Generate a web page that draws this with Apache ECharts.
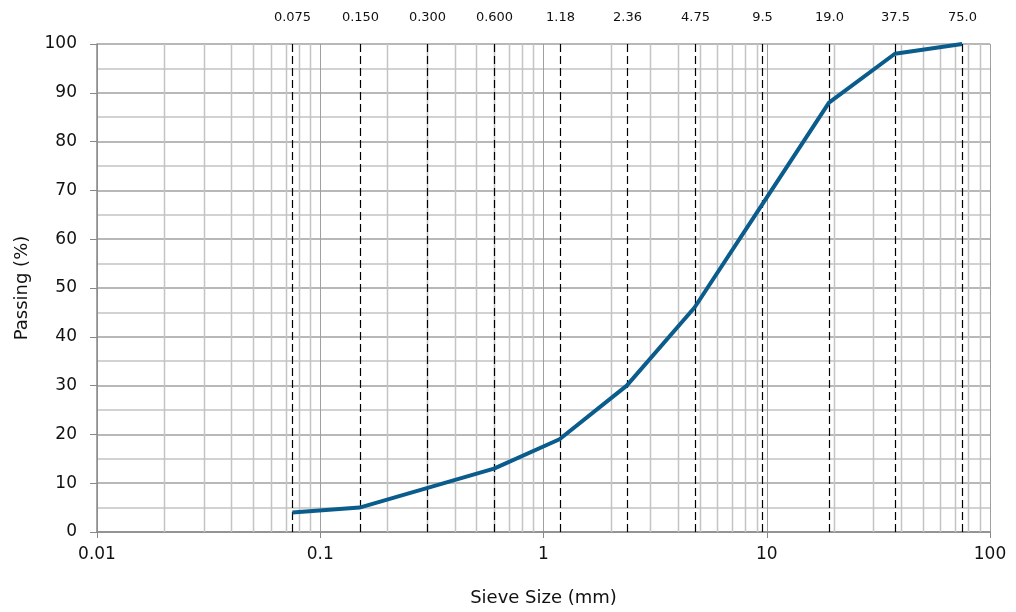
<!DOCTYPE html>
<html>
<head>
<meta charset="utf-8">
<script src="https://cdn.jsdelivr.net/npm/echarts@6/dist/echarts.min.js"></script>
<style>
  html, body { margin: 0; padding: 0; background: #ffffff; }
  #chart { width: 1016px; height: 612px; }
</style>
</head>
<body>
<div id="chart"></div>
<script>
// Sieve openings (mm) and cumulative percent passing
const sieveSizes = [0.075, 0.15, 0.3, 0.6, 1.18, 2.36, 4.75, 9.5, 19.0, 37.5, 75.0];
const sieveLabels = ['0.075', '0.150', '0.300', '0.600', '1.18', '2.36', '4.75', '9.5', '19.0', '37.5', '75.0'];
const passing = [4, 5, 9, 13, 19, 30, 46, 67, 88, 98, 100];

const FONT = 'DejaVu Sans';
const MAJOR_GRID = '#a0a0a0';
const MINOR_GRID = '#c4c4c4';
const AXIS_COLOR = '#888888';
const Y_MIN = 0, Y_MAX = 100;

// Intermediate log-scale grid lines (2..9 within each decade)
const minorX = [];
for (let d = 0.01; d < 100; d *= 10) {
  for (let k = 2; k <= 9; k++) minorX.push(+(d * k).toPrecision(3));
}

// Full-height vertical line at a given x value, placed through the axes
function verticalLine(params, api, style) {
  const x = api.value(0);
  const top = api.coord([x, Y_MAX]);
  const bottom = api.coord([x, Y_MIN]);
  const px = Math.round(top[0]) + 0.5;
  return {
    type: 'line',
    shape: { x1: px, y1: top[1], x2: px, y2: bottom[1] },
    style: style,
    silent: true
  };
}

const chart = echarts.init(document.getElementById('chart'), null, { renderer: 'canvas' });

chart.setOption({
  animation: false,
  backgroundColor: '#ffffff',
  grid: { left: 97, right: 26, top: 44, bottom: 76, containLabel: false },
  xAxis: {
    type: 'log',
    logBase: 10,
    min: 0.01,
    max: 100,
    name: 'Sieve Size (mm)',
    nameLocation: 'middle',
    nameGap: 57,
    nameTextStyle: { fontFamily: FONT, fontSize: 18, color: '#111' },
    axisLine: { show: true, onZero: false, lineStyle: { color: AXIS_COLOR, width: 1.5 } },
    axisTick: { show: true, length: 6, lineStyle: { color: AXIS_COLOR } },
    axisLabel: {
      fontFamily: FONT, fontSize: 17, color: '#111', margin: 14,
      formatter: v => String(+v.toPrecision(3))
    },
    splitLine: { show: true, lineStyle: { color: MAJOR_GRID, width: 1 } }
  },
  yAxis: {
    type: 'value',
    min: Y_MIN,
    max: Y_MAX,
    interval: 10,
    name: 'Passing (%)',
    nameLocation: 'middle',
    nameGap: 66,
    nameTextStyle: { fontFamily: FONT, fontSize: 18, color: '#111' },
    axisLine: { show: true, lineStyle: { color: AXIS_COLOR, width: 1.5 } },
    axisTick: { show: true, length: 7, lineStyle: { color: AXIS_COLOR } },
    axisLabel: { fontFamily: FONT, fontSize: 17, color: '#111', margin: 20 },
    splitLine: { show: true, lineStyle: { color: MAJOR_GRID, width: 1.5 } },
    minorTick: { show: false, splitNumber: 2 },
    minorSplitLine: { show: true, lineStyle: { color: MINOR_GRID, width: 1.5 } }
  },
  series: [
    {
      // minor vertical grid lines
      type: 'custom',
      silent: true,
      z: 1,
      clip: false,
      data: minorX.map(v => [v]),
      encode: { x: 0 },
      renderItem: (params, api) =>
        verticalLine(params, api, { stroke: MINOR_GRID, lineWidth: 1.5 })
    },
    {
      // sieve size reference lines, labelled along the top
      type: 'custom',
      silent: true,
      z: 2,
      clip: false,
      data: sieveSizes.map((v, i) => [v, sieveLabels[i]]),
      encode: { x: 0 },
      renderItem: (params, api) => {
        const line = verticalLine(params, api, {
          stroke: '#000000', lineWidth: 1.2, lineDash: [8, 4]
        });
        const label = {
          type: 'text',
          silent: true,
          style: {
            text: sieveLabels[params.dataIndex],
            x: line.shape.x1,
            y: line.shape.y1 - 26,
            fill: '#111',
            font: '13px "DejaVu Sans"',
            textAlign: 'center',
            textVerticalAlign: 'middle'
          }
        };
        return { type: 'group', children: [line, label] };
      }
    },
    {
      name: 'Passing',
      type: 'line',
      z: 5,
      data: sieveSizes.map((s, i) => [s, passing[i]]),
      symbol: 'none',
      lineStyle: { color: '#0a5c8c', width: 4 },
      itemStyle: { color: '#0a5c8c' }
    }
  ]
});
</script>
</body>
</html>
